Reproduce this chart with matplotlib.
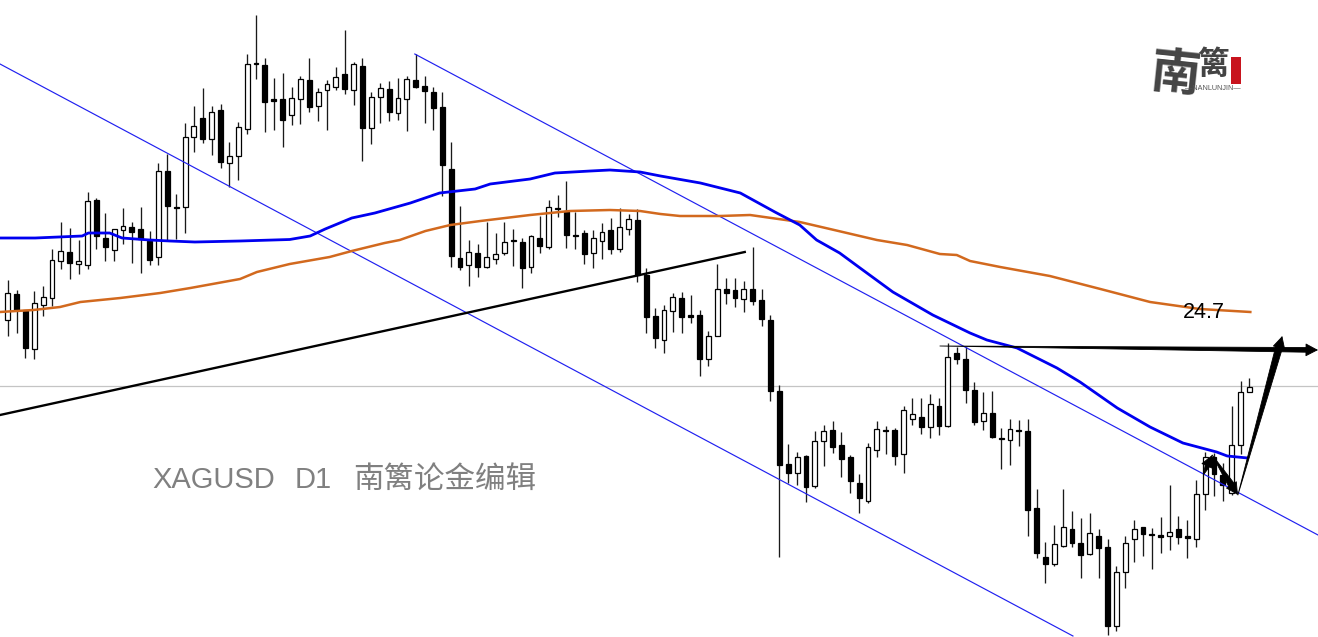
import matplotlib
matplotlib.use("Agg")
import matplotlib.pyplot as plt
from matplotlib.patches import FancyArrowPatch, Rectangle

title_symbol = "XAGUSD"
title_period = "D1"
title_author = "南篱论金编辑"
ma_label = "24.7"
logo_big = "南"
logo_small = "篱"
logo_sub = "—NANLUNJIN—"

opens = [24.62,24.88,24.72,24.33,24.77,24.84,25.21,25.30,25.18,25.17,25.82,25.44,25.32,25.52,25.55,25.53,25.41,25.25,26.11,25.75,
25.75,26.45,26.64,26.43,26.72,26.19,26.26,26.53,27.19,27.17,26.83,26.83,26.67,26.83,27.02,26.76,26.92,26.95,27.08,26.92,
27.16,26.54,26.85,26.93,26.69,26.83,27.02,26.96,26.90,26.75,26.13,25.24,25.17,25.29,25.15,25.23,25.29,25.42,25.40,25.15,
25.44,25.35,25.74,25.71,25.47,25.49,25.29,25.41,25.52,25.33,25.53,25.62,25.07,24.66,24.42,24.71,24.84,24.67,24.67,24.23,
24.46,24.93,24.92,24.83,24.93,24.82,24.62,23.91,23.18,23.09,23.26,22.96,23.41,23.52,23.37,23.25,22.99,22.81,23.32,23.52,
23.52,23.28,23.63,23.65,23.55,23.76,23.56,24.29,24.23,23.92,23.61,23.69,23.44,23.42,23.52,23.51,22.74,22.25,22.18,22.36,
22.53,22.39,22.28,22.46,22.35,21.56,22.10,22.43,22.55,22.48,22.47,22.46,22.53,22.46,22.43,22.88,23.25,23.07,22.89,23.37,23.90]
highs = [25.02,24.92,24.72,24.91,24.96,25.33,25.60,25.54,25.42,25.90,25.84,25.69,25.53,25.74,25.60,25.75,25.51,26.19,26.28,25.88,
26.59,26.76,26.94,26.76,26.78,26.40,26.60,27.28,27.67,27.24,27.04,27.09,26.95,27.06,27.24,26.94,27.02,27.15,27.52,27.20,
27.24,26.90,26.99,27.01,27.04,27.06,27.28,27.06,26.95,26.90,26.40,25.76,25.42,25.38,25.60,25.49,25.60,25.53,25.44,25.47,
25.66,25.82,25.87,26.01,25.70,25.52,25.52,25.59,25.64,25.74,25.68,25.73,25.14,24.74,24.77,24.89,24.90,24.87,24.72,24.51,
25.18,25.04,25.04,25.01,25.35,24.93,24.67,23.97,23.38,23.30,23.27,23.51,23.57,23.61,23.50,23.27,23.08,23.39,23.61,23.56,
23.54,23.76,23.84,23.84,23.88,23.84,24.39,24.35,24.35,24.00,23.90,23.91,23.54,23.63,23.62,23.63,22.93,22.40,22.57,22.93,
22.71,22.64,22.69,22.53,22.43,22.16,22.46,22.62,22.55,22.54,22.65,22.97,22.66,22.62,23.02,23.30,23.29,23.19,23.76,24.01,24.04]
lows = [24.46,24.49,24.24,24.23,24.66,24.76,25.13,25.03,25.08,25.13,25.33,25.21,25.21,25.38,25.19,25.09,25.17,25.17,25.41,25.43,
25.49,26.30,26.39,26.27,26.14,25.95,26.02,26.48,27.03,26.50,26.52,26.35,26.57,26.58,26.70,26.61,26.52,26.92,26.88,26.77,
26.21,26.38,26.59,26.61,26.62,26.51,26.94,26.59,26.52,25.86,25.15,25.12,24.96,25.05,25.14,25.18,25.27,25.16,24.94,25.09,
25.29,25.33,25.65,25.34,25.33,25.18,25.14,25.23,25.28,25.30,25.47,25.00,24.49,24.34,24.29,24.50,24.49,24.59,24.06,24.16,
24.46,24.78,24.75,24.70,24.77,24.56,23.81,22.25,22.99,22.97,22.80,22.94,23.16,23.29,23.05,22.89,22.69,22.79,23.25,23.28,
23.17,23.09,23.57,23.48,23.44,23.47,23.55,24.18,23.79,23.57,23.52,23.44,23.13,23.17,23.36,22.46,22.24,21.99,22.16,22.35,
22.35,22.04,22.27,22.04,21.47,21.51,21.94,22.20,22.26,22.13,22.29,22.32,22.38,22.24,22.35,22.72,22.86,22.81,22.87,23.28,23.90]
closes = [24.89,24.72,24.34,24.79,24.85,25.22,25.31,25.19,25.21,25.81,25.46,25.35,25.53,25.56,25.50,25.43,25.22,26.11,25.76,25.74,
26.45,26.56,26.43,26.70,26.20,26.26,26.55,27.18,27.18,26.80,26.81,26.62,26.84,27.03,26.75,26.90,26.98,27.05,26.93,27.18,
26.54,26.85,26.94,26.70,26.84,27.03,26.95,26.91,26.74,26.17,25.26,25.15,25.30,25.15,25.25,25.28,25.40,25.41,25.14,25.46,
25.36,25.75,25.73,25.47,25.46,25.28,25.44,25.50,25.33,25.55,25.63,25.07,24.65,24.44,24.72,24.85,24.65,24.65,24.23,24.46,
24.93,24.89,24.84,24.93,24.81,24.63,23.91,23.17,23.09,23.25,22.95,23.41,23.51,23.35,23.23,23.01,22.84,23.35,23.53,23.51,
23.26,23.72,23.68,23.55,23.78,23.56,24.25,24.23,23.92,23.60,23.69,23.45,23.43,23.53,23.51,22.72,22.29,22.18,22.38,22.55,
22.39,22.27,22.49,22.34,21.56,22.10,22.39,22.53,22.48,22.47,22.45,22.50,22.45,22.44,22.88,23.25,23.08,22.97,23.37,23.90,23.95]

ma_fast_bar = [-0.9,3.1,8.4,9.1,11.5,12.9,16.0,18.3,21.1,26.2,31.8,34.1,35.8,38.8,41.4,45.4,48.7,52.7,54.4,58.9,61.7,65.7,67.9,71.3,73.6,
78.1,82.6,86.5,89.3,91.2,93.8,96.1,99.8,104.3,108.5,110.4,113.8,118.3,120.9,125.1,128.8,132.5,136.3,137.5,139.8]
ma_fast = [25.44,25.44,25.46,25.49,25.49,25.44,25.42,25.41,25.40,25.41,25.425,25.46,25.53,25.64,25.69,25.79,25.89,25.93,25.98,26.03,26.09,26.11,26.12,26.10,26.06,
25.99,25.89,25.70,25.57,25.42,25.29,25.14,24.90,24.67,24.49,24.42,24.34,24.14,24.00,23.74,23.55,23.39,23.30,23.26,23.24]
ma_slow_bar = [-0.9,2.9,5.9,8.2,12.7,17.2,20.6,26.2,28.1,31.8,36.3,38.8,42.5,44.2,47.1,49.9,53.3,58.9,63.4,67.9,71.3,73.6,75.8,80.3,83.7,
89.3,92.7,98,101.4,105.1,107,108.5,111.9,117.5,123.2,128.8,134.4,140.1]
ma_slow = [24.70,24.72,24.75,24.80,24.84,24.89,24.94,25.03,25.10,25.18,25.25,25.31,25.39,25.42,25.51,25.57,25.61,25.67,25.71,25.72,25.71,25.68,25.66,25.66,25.67,
25.60,25.53,25.42,25.37,25.28,25.27,25.21,25.15,25.06,24.93,24.80,24.73,24.70]

channel_low_bar = [-0.865, 120.1]
channel_low = [27.18, 21.46]
channel_high_bar = [45.9, 147.73]
channel_high = [27.28, 22.47]
support_bar = [-0.865, 83.1]
support = [23.67, 25.30]
current_price = 23.96
resistance_bar = [105.1, 147.73]
resistance = [24.36, 24.32]
path_bar = [134.8, 135.8, 138.7, 143.7]
path_price = [23.07, 23.27, 22.87, 24.46]

fig = plt.figure(figsize=(13.18, 6.37), dpi=100, facecolor="white")
ax = fig.add_axes([0, 0, 1, 1])
ax.set_xlim(-0.865, 147.73)
ax.set_ylim(21.45, 27.82)
ax.axis("off")

bars = list(range(len(opens)))
ax.axhline(current_price, color="#c4c4c4", lw=0.9, zorder=1)
ax.vlines(bars, lows, highs, color="#1a1a1a", lw=0.95, zorder=2)
for i, o, c in zip(bars, opens, closes):
    up = c > o
    ax.bar(i, abs(c - o), bottom=min(o, c), width=0.55,
           facecolor="white" if up else "black", edgecolor="black", lw=0.9, zorder=3)

ax.plot(channel_low_bar, channel_low, color="#2020f0", lw=0.85, zorder=4)
ax.plot(channel_high_bar, channel_high, color="#2020f0", lw=0.85, zorder=4)
ax.plot(support_bar, support, color="black", lw=1.7, zorder=4)
ax.plot(ma_slow_bar, ma_slow, color="#d2691e", lw=1.8, zorder=5)
ax.plot(ma_fast_bar, ma_fast, color="#0000f0", lw=2.0, zorder=5)

def arrow(xs, ys, tail_width, head_frac):
    # tapered shaft: thin at the start, thick toward the head, then a filled head
    base = (xs[1] - (xs[1] - xs[0]) * head_frac, ys[1] - (ys[1] - ys[0]) * head_frac)
    ax.add_patch(FancyArrowPatch(base, (xs[0], ys[0]),
                 arrowstyle=f"wedge,tail_width={tail_width},shrink_factor=0.5",
                 mutation_scale=10, color="black", lw=0.6, shrinkA=0, shrinkB=0, zorder=6))
    ax.add_patch(FancyArrowPatch(base, (xs[1], ys[1]),
                 arrowstyle="-|>,head_width=0.42,head_length=0.8",
                 mutation_scale=10, color="black", lw=0.6, shrinkA=0, shrinkB=0, zorder=6))

arrow(resistance_bar, resistance, 0.34, 0.025)
arrow(path_bar[0:2], path_price[0:2], 0.4, 0.45)
arrow(path_bar[1:3], path_price[1:3], 0.45, 0.25)
arrow(path_bar[2:4], path_price[2:4], 0.5, 0.06)

title_font = dict(color="#808080", va="center", ha="left", zorder=7)
ax.text(16.27, 23.02, title_symbol, fontsize=21, family="Liberation Sans", **title_font)
ax.text(32.4, 23.02, title_period, fontsize=21, family="Liberation Sans", **title_font)
ax.text(38.9, 23.02, title_author, fontsize=22, family="Noto Sans CJK SC", **title_font)
ax.text(132.5, 24.69, ma_label, fontsize=15.5, color="black", va="center", ha="left",
        family="Liberation Sans", zorder=7)

W, H = 1318, 637
fig.text(1175/W, 1-75/H, logo_big, fontsize=36, weight="bold", color="#444444", ha="center", va="center",
         rotation=-6, family="Noto Sans CJK SC")
fig.text(1213/W, 1-65/H, logo_small, fontsize=23, weight="bold", color="#444444", ha="center", va="center",
         family="Noto Sans CJK SC")
fig.text(1213/W, 1-89/H, logo_sub, fontsize=5.2, color="#555555", ha="center", va="center",
         family="Liberation Sans")
fig.add_artist(Rectangle((1231/W, 1-84/H), 10/W, 27/H, transform=fig.transFigure, facecolor="#c8141e", edgecolor="none"))

fig.savefig("out.png", dpi=100)
